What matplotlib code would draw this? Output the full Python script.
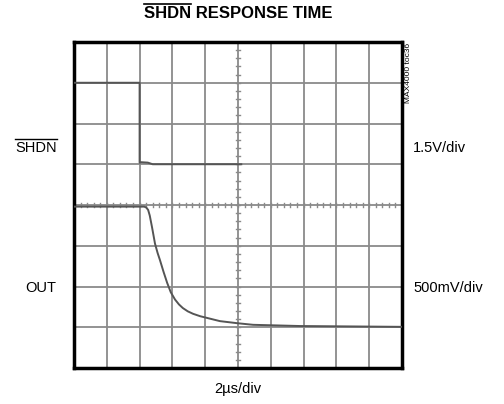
import numpy as np
import matplotlib
matplotlib.use("Agg")
import matplotlib.pyplot as plt
from matplotlib.lines import Line2D

plt.rcParams['font.family'] = ['Liberation Sans Narrow', 'Liberation Sans', 'DejaVu Sans']

# traces, in scope divisions (x: 0..10, y: 0..8)
shdn_x = [0, 2.0, 2.0, 2.05, 2.25, 2.4, 5.1]
shdn_y = [7.0, 7.0, 5.04, 5.05, 5.04, 5.0, 5.0]

out_x = [0, 2.14, 2.2, 2.26, 2.31, 2.38, 2.47, 2.55, 2.62, 2.73, 2.84, 2.95, 3.08, 3.2, 3.32,
         3.47, 3.63, 3.85, 4.05, 4.45, 4.97, 5.46, 6.89, 10]
out_y = [3.96, 3.96, 3.94, 3.88, 3.74, 3.45, 3.05, 2.82, 2.65, 2.36, 2.09, 1.86, 1.68, 1.56, 1.47,
         1.39, 1.33, 1.27, 1.23, 1.15, 1.10, 1.06, 1.03, 1.01]

fig = plt.figure(figsize=(5.04, 4.04), dpi=100)
ax = fig.add_axes([74/504, 1-368/404, 328/504, 326/404])
ax.set_xlim(0, 10)
ax.set_ylim(0, 8)

grid_c = '#8a8a8a'
for gx in range(1, 10):
    ax.axvline(gx, color=grid_c, lw=1.3, zorder=1)
for gy in range(1, 8):
    ax.axhline(gy, color=grid_c, lw=1.3, zorder=1)

# minor ticks on centre lines
for t in np.arange(0.2, 10, 0.2):
    ax.plot([t, t], [3.95, 4.05], color=grid_c, lw=1, zorder=1)
for t in np.arange(0.2, 8, 0.2):
    ax.plot([4.93, 5.07], [t, t], color=grid_c, lw=1, zorder=1)

ax.plot(shdn_x, shdn_y, color='#555555', lw=1.4, zorder=3)
ax.plot(out_x, out_y, color='#555555', lw=1.4, zorder=3)

ax.set_xticks([])
ax.set_yticks([])
for s in ax.spines.values():
    s.set_linewidth(2.5)
    s.set_color('black')

tit = fig.text(238/504, 1-13/404, 'SHDN RESPONSE TIME', ha='center', va='center',
               fontsize=12, fontweight='bold')
lab_shdn = fig.text(57/504, 1-148/404, 'SHDN', ha='right', va='center', fontsize=10.5)
fig.text(56/504, 1-288/404, 'OUT', ha='right', va='center', fontsize=10.5)
fig.text(413/504, 1-148/404, '1.5V/div', ha='left', va='center', fontsize=10.5)
fig.text(413/504, 1-288/404, '500mV/div', ha='left', va='center', fontsize=10.5)
fig.text(238/504, 1-389/404, '2µs/div', ha='center', va='center', fontsize=10.5)
fig.text(408/504, 1-43/404, 'MAX4000 toc36', ha='center', va='top', rotation=90, fontsize=6)

# overlines over SHDN
fig.canvas.draw()
r = fig.canvas.get_renderer()
tw = tit.get_window_extent(r)
tmp = fig.text(0, 0, 'SHDN', fontsize=12, fontweight='bold')
w_sh = tmp.get_window_extent(r).width
tmp.remove()
x0 = tw.x0 / 504
x1 = (tw.x0 + w_sh) / 504
ytop = (tw.y1 + 2) / 404
fig.add_artist(Line2D([x0, x1], [ytop, ytop], color='black', lw=1.2, transform=fig.transFigure))

lw_ = lab_shdn.get_window_extent(r)
ytop = (lw_.y1 + 2) / 404
fig.add_artist(Line2D([lw_.x0/504, lw_.x1/504], [ytop, ytop], color='black', lw=1.0, transform=fig.transFigure))

fig.savefig('out.png', dpi=100)
